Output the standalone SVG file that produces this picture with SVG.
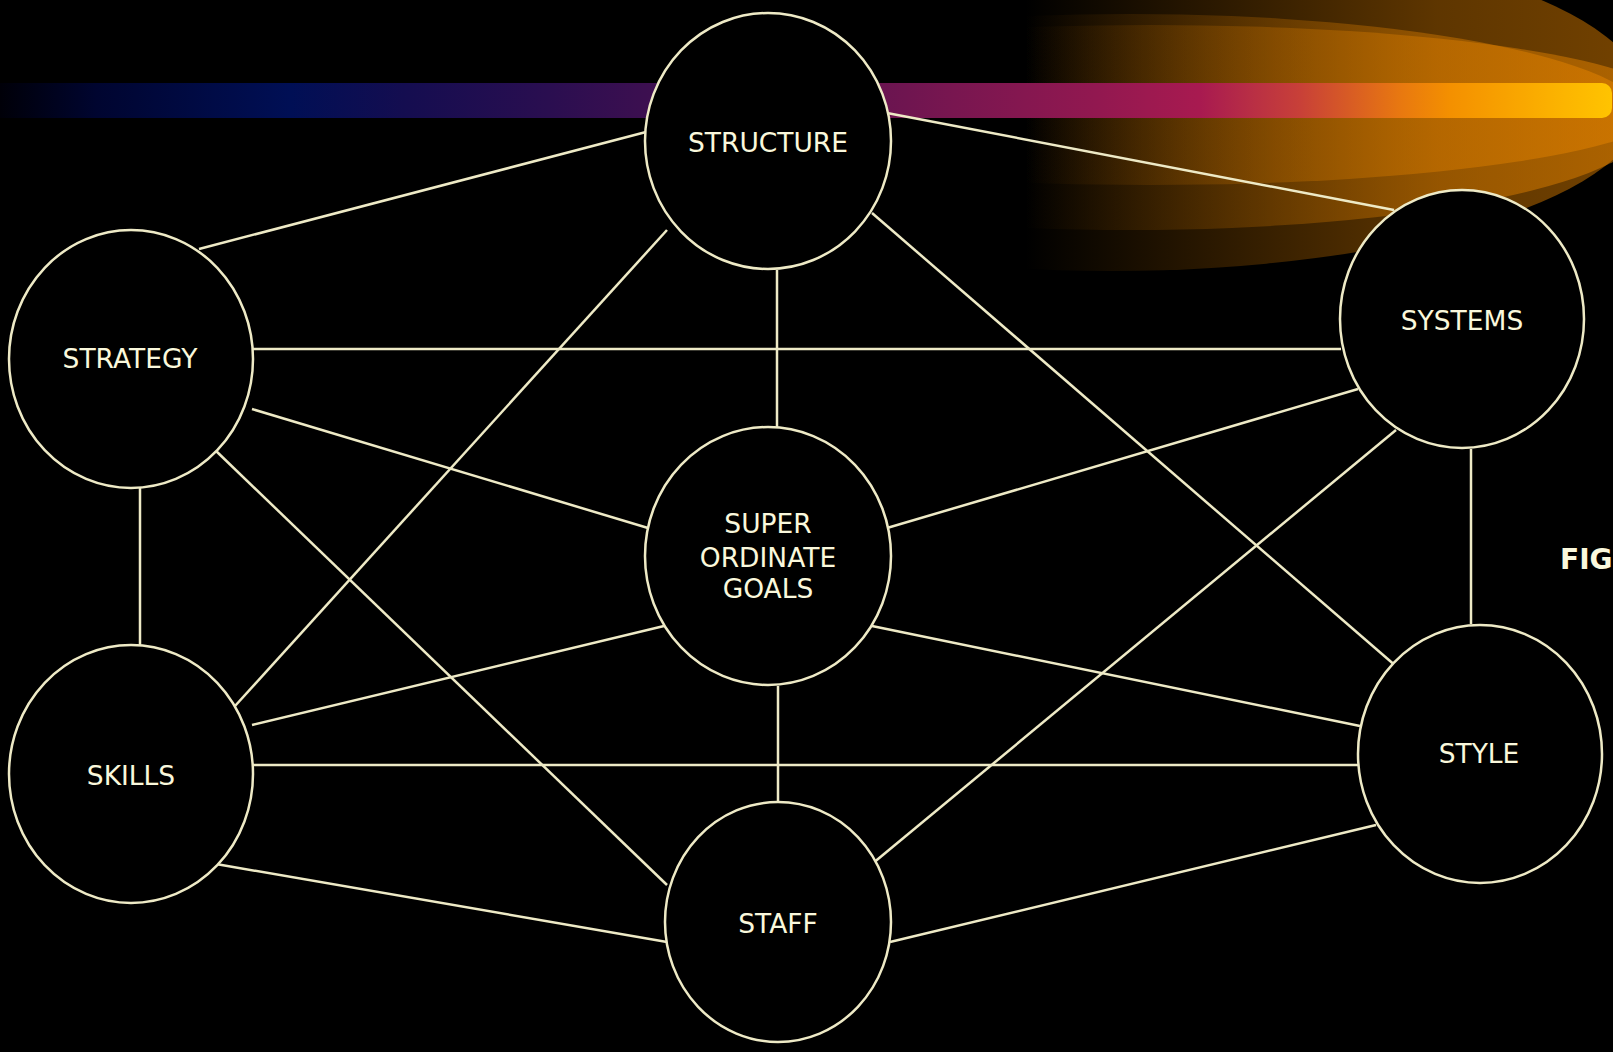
<svg xmlns="http://www.w3.org/2000/svg" width="1613" height="1052" viewBox="0 0 1613 1052">
  <defs>
    <linearGradient id="bar" gradientUnits="userSpaceOnUse" x1="0" y1="0" x2="1613" y2="0">
      <stop offset="0" stop-color="#000008"/>
      <stop offset="0.06" stop-color="#000530"/>
      <stop offset="0.18" stop-color="#000F55"/>
      <stop offset="0.25" stop-color="#140D50"/>
      <stop offset="0.34" stop-color="#2A0E50"/>
      <stop offset="0.40" stop-color="#3C0F50"/>
      <stop offset="0.59" stop-color="#781650"/>
      <stop offset="0.68" stop-color="#921850"/>
      <stop offset="0.744" stop-color="#A81A50"/>
      <stop offset="0.775" stop-color="#B82E45"/>
      <stop offset="0.806" stop-color="#C84038"/>
      <stop offset="0.868" stop-color="#E87810"/>
      <stop offset="0.899" stop-color="#F49000"/>
      <stop offset="0.96" stop-color="#FBB000"/>
      <stop offset="1" stop-color="#FFC400"/>
    </linearGradient>
    <linearGradient id="glow" gradientUnits="userSpaceOnUse" x1="1025" y1="0" x2="1613" y2="0">
      <stop offset="0" stop-color="#E08000" stop-opacity="0"/>
      <stop offset="0.7" stop-color="#E08000" stop-opacity="0.42"/>
      <stop offset="1" stop-color="#EA8600" stop-opacity="0.48"/>
    </linearGradient>
    <style>
      .node ellipse { fill: #000000; stroke: #EEEAC6; stroke-width: 2.5; }
      .node text { fill: #FAF8DC; font-family: "DejaVu Sans", Verdana, sans-serif; font-size: 26.5px; text-anchor: middle; }
      #connectors line { stroke: #EEEAC6; stroke-width: 2.5; }
      .glow { fill: url(#glow); }
    </style>
  </defs>
  <rect x="0" y="0" width="1613" height="1052" fill="#000000"/>
  <g id="background">
    <ellipse class="glow" cx="1111" cy="101" rx="535" ry="170"/>
    <ellipse class="glow" cx="1130" cy="122" rx="520" ry="108"/>
    <ellipse class="glow" cx="1150" cy="105" rx="520" ry="80"/>
    <rect x="-20" y="83" width="1632" height="35" rx="10" ry="10" fill="url(#bar)"/>
  </g>
  <g id="connectors">
    <line x1="646" y1="132" x2="199" y2="249"/>
    <line x1="887" y1="113" x2="1394" y2="210"/>
    <line x1="777" y1="270" x2="777" y2="428"/>
    <line x1="667" y1="230" x2="235" y2="706"/>
    <line x1="872" y1="213" x2="1397" y2="667"/>
    <line x1="252" y1="349" x2="1341" y2="349"/>
    <line x1="252" y1="409" x2="648" y2="528"/>
    <line x1="140" y1="488" x2="140" y2="646"/>
    <line x1="214" y1="449" x2="667" y2="885"/>
    <line x1="1358" y1="389" x2="887" y2="528"/>
    <line x1="1396" y1="430" x2="872" y2="864"/>
    <line x1="1471" y1="449" x2="1471" y2="624"/>
    <line x1="664" y1="626" x2="252" y2="725"/>
    <line x1="872" y1="626" x2="1360" y2="726"/>
    <line x1="778" y1="686" x2="778" y2="804"/>
    <line x1="252" y1="765" x2="1360" y2="765"/>
    <line x1="216" y1="864" x2="667" y2="942"/>
    <line x1="890" y1="942" x2="1376" y2="825"/>
  </g>
  <g id="node-structure" class="node">
    <ellipse cx="768" cy="141" rx="123" ry="128"/>
    <text x="768" y="152">STRUCTURE</text>
  </g>
  <g id="node-strategy" class="node">
    <ellipse cx="131" cy="359" rx="122" ry="129"/>
    <text x="130" y="368">STRATEGY</text>
  </g>
  <g id="node-systems" class="node">
    <ellipse cx="1462" cy="319" rx="122" ry="129"/>
    <text x="1462" y="330">SYSTEMS</text>
  </g>
  <g id="node-superordinate" class="node">
    <ellipse cx="768" cy="556" rx="123" ry="129"/>
    <text x="768" y="533">SUPER</text>
    <text x="768" y="567">ORDINATE</text>
    <text x="768" y="598">GOALS</text>
  </g>
  <g id="node-skills" class="node">
    <ellipse cx="131" cy="774" rx="122" ry="129"/>
    <text x="131" y="785">SKILLS</text>
  </g>
  <g id="node-style" class="node">
    <ellipse cx="1480" cy="754" rx="122" ry="129"/>
    <text x="1479" y="763">STYLE</text>
  </g>
  <g id="node-staff" class="node">
    <ellipse cx="778" cy="922" rx="113" ry="120"/>
    <text x="778" y="933">STAFF</text>
  </g>
  <text x="1560" y="569" fill="#FAF8DC" font-family="DejaVu Sans, Verdana, sans-serif" font-size="28" font-weight="bold">FIG</text>
</svg>
